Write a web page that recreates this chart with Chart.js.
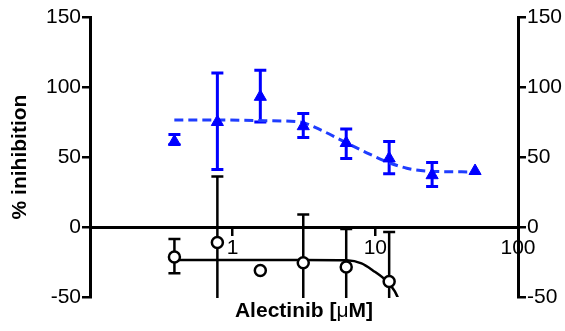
<!DOCTYPE html>
<html>
<head>
<meta charset="utf-8">
<script src="https://cdn.jsdelivr.net/npm/chart.js@4.4.1/dist/chart.umd.min.js"></script>
<style>
  html, body { margin: 0; padding: 0; background: #fff; }
  #wrap { width: 565px; height: 331px; }
</style>
</head>
<body>
<div id="wrap"><canvas id="doseChart"></canvas></div>
<script>
// blue triangles
const blueDoses = [0.390625, 0.78125, 1.5625, 3.125, 6.25, 12.5, 25, 50];
const blueMean = [61, 75, 93, 72, 60, 49, 37, 40];
const blueHigh = [66, 110, 112, 81, 70, 61, 46, null];
const blueLow = [59, 41, 75, 64, 49, 38, 29, null];

// open circles (lower bars run off the bottom of the axis)
const blackDoses = [0.390625, 0.78125, 1.5625, 3.125, 6.25, 12.5];
const blackMean = [-21.5, -11, -31, -25.5, -28.5, -39];
const blackHigh = [-8.5, 36, null, 9, -1.5, -3.5];
const blackLow = [-33, -75, null, -75, -75, -75];

// fitted curves
const blueFitX = [0.39, 0.78, 1.5, 2.95, 4.1, 6.3, 8.7, 12.1, 16.6, 23, 50];
const blueFitY = [76.5, 76.5, 76, 75, 69.5, 60, 53, 46.5, 42, 40, 39.3];
const blackFitX = [0.39, 1, 3.125, 6.3, 8, 9.6, 12.1, 13.7, 14.6];
const blackFitY = [-23.5, -23.5, -23.5, -23.8, -26, -31, -39, -46, -52];

const xTicks = [1, 10, 100];
const yMin = -50, yMax = 150, yStep = 50;

const BLUE = "#0000ff";
const FONT = "'Liberation Sans', Arial, sans-serif";

const pts = (xs, ys) => xs.map((x, i) => ({ x: x, y: ys[i] }));

/* ===== error bars, drawn through the scales ===== */
const errorBars = {
  id: "errorBars",
  beforeDatasetsDraw(chart) {
    const { ctx, chartArea, scales } = chart;
    ctx.save();
    ctx.beginPath();
    ctx.rect(chartArea.left, chartArea.top, chartArea.right - chartArea.left, chartArea.bottom - chartArea.top + 1);
    ctx.clip();
    chart.data.datasets.forEach(ds => {
      if (!ds.errHigh) return;
      ctx.strokeStyle = ds.borderColor;
      ctx.lineWidth = ds.errWidth;
      ds.data.forEach((p, i) => {
        const hi = ds.errHigh[i], lo = ds.errLow[i];
        if (hi == null) return;
        const x = scales.x.getPixelForValue(p.x);
        const yh = scales.y.getPixelForValue(hi);
        const yl = scales.y.getPixelForValue(lo);
        ctx.beginPath();
        ctx.moveTo(x, yh); ctx.lineTo(x, yl);
        ctx.moveTo(x - 6, yh); ctx.lineTo(x + 6, yh);
        ctx.moveTo(x - 6, yl); ctx.lineTo(x + 6, yl);
        ctx.stroke();
      });
    });
    ctx.restore();
  }
};

/* ===== x title sits below the plot, not under the zero line ===== */
// the mu is set in a plain weight like the original
const xTitleParts = [["Alectinib [", "bold"], ["\u03BC", "normal"], ["M]", "bold"]];
const xTitle = {
  id: "xTitle",
  afterDraw(chart) {
    const { ctx, chartArea } = chart;
    ctx.save();
    ctx.fillStyle = "#000";
    ctx.textAlign = "left";
    ctx.textBaseline = "alphabetic";
    let total = 0;
    xTitleParts.forEach(([t, w]) => { ctx.font = w + " 21px " + FONT; total += ctx.measureText(t).width; });
    let x = (chartArea.left + chartArea.right) / 2 - total / 2;
    xTitleParts.forEach(([t, w]) => {
      ctx.font = w + " 21px " + FONT;
      ctx.fillText(t, x, 317);
      x += ctx.measureText(t).width;
    });
    ctx.restore();
  }
};

const tickGrid = { display: true, drawOnChartArea: false, drawTicks: true, tickLength: 8, color: "#000", lineWidth: 2.5 };

new Chart(document.getElementById("doseChart"), {
  type: "scatter",
  data: {
    datasets: [
      {
        label: "blue",
        data: pts(blueDoses, blueMean),
        errHigh: blueHigh, errLow: blueLow, errWidth: 3,
        pointStyle: "triangle", pointRadius: 7, pointHoverRadius: 7,
        backgroundColor: BLUE, borderColor: BLUE, borderWidth: 1
      },
      {
        label: "black",
        data: pts(blackDoses, blackMean),
        errHigh: blackHigh, errLow: blackLow, errWidth: 2.5,
        pointStyle: "circle", pointRadius: 5.5, pointHoverRadius: 5.5,
        backgroundColor: "#fff", borderColor: "#000", borderWidth: 2.5
      },
      {
        label: "blue fit",
        type: "line",
        data: pts(blueFitX, blueFitY),
        borderColor: "#1f3dff", borderWidth: 3, borderDash: [9, 5],
        pointRadius: 0, cubicInterpolationMode: "monotone", fill: false
      },
      {
        label: "black fit",
        type: "line",
        data: pts(blackFitX, blackFitY),
        borderColor: "#000", borderWidth: 2.5,
        pointRadius: 0, cubicInterpolationMode: "monotone", fill: false
      }
    ]
  },
  options: {
    responsive: true,
    maintainAspectRatio: false,
    animation: false,
    layout: { padding: { left: 0, right: 0, top: 17, bottom: 34 } },
    plugins: {
      legend: { display: false },
      tooltip: { enabled: false }
    },
    scales: {
      x: {
        type: "logarithmic",
        min: 0.1, max: 100,
        position: { y: 0 },
        afterBuildTicks: s => { s.ticks = xTicks.map(v => ({ value: v })); },
        grid: Object.assign({}, tickGrid, { tickLength: 7 }),
        border: { display: true, color: "#000", width: 3 },
        ticks: {
          color: "#000", padding: 2, maxRotation: 0,
          font: { family: FONT, size: 21 },
          callback: v => String(v)
        }
      },
      y: {
        type: "linear",
        position: "left",
        min: yMin, max: yMax,
        afterFit: s => { s.width = 90; },
        grid: tickGrid,
        border: { display: true, color: "#000", width: 3 },
        ticks: { stepSize: yStep, color: "#000", padding: 1, font: { family: FONT, size: 21 } },
        title: {
          display: true, text: "% inihibition", color: "#000",
          font: { family: FONT, size: 21, weight: "bold" },
          padding: { top: 8, bottom: 0 }
        }
      },
      y2: {
        type: "linear",
        position: "right",
        min: yMin, max: yMax,
        afterFit: s => { s.width = 47; },
        grid: tickGrid,
        border: { display: true, color: "#000", width: 3 },
        ticks: { stepSize: yStep, color: "#000", padding: 1, font: { family: FONT, size: 21 } }
      }
    }
  },
  plugins: [errorBars, xTitle]
});
</script>
</body>
</html>
